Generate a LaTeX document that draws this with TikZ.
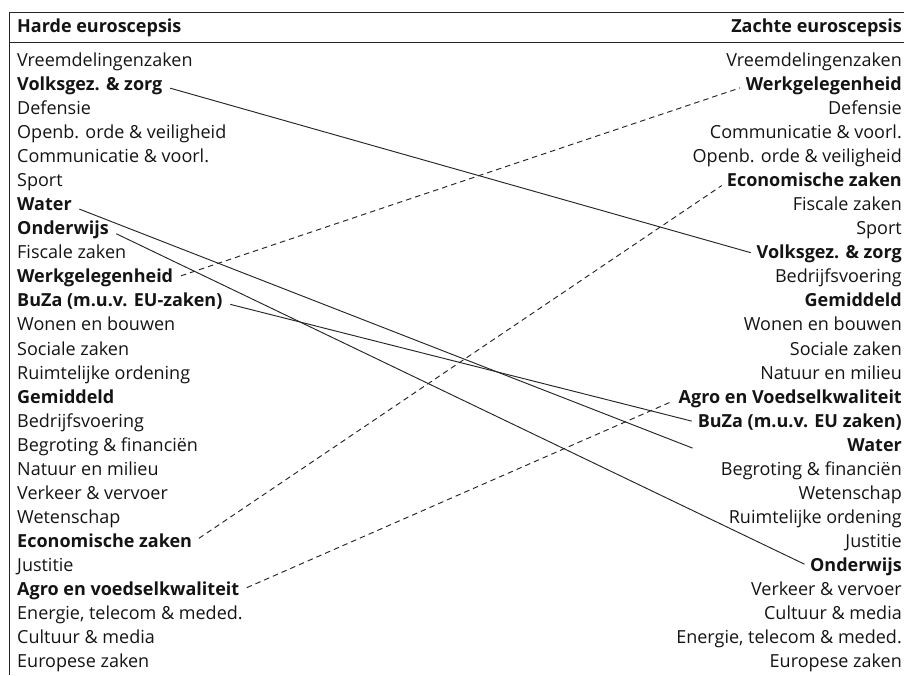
\documentclass[tikz,border=0pt]{standalone}
\usepackage{fontspec}
\setmainfont{Open Sans}
\usetikzlibrary{calc}
\begin{document}
\begin{tikzpicture}[x=1pt,y=-1pt,
  lbl/.style={inner sep=0pt, text height=13pt, text depth=4pt, font=\fontsize{18}{22}\selectfont, text=black!92},
  lft/.style={lbl, anchor=west},
  rgt/.style={lbl, anchor=east},
  bld/.style={font=\fontsize{18}{22}\selectfont\bfseries},
  rule/.style={line width=1pt, black!85},
  link/.style={line width=0.95pt, black!85, shorten <=8pt, shorten >=6pt},
  dlink/.style={link, dash pattern=on 5.5pt off 4pt},
]
\useasboundingbox (0,0) rectangle (904,675);
% frame
\draw[rule] (904,12) -- (9,12) -- (9,675);
\draw[rule] (9,42) -- (904,42);
% headers
\node[lft,bld] (hl) at (17,28) {Harde euroscepsis};
\node[rgt,bld] (hr) at (902,28) {Zachte euroscepsis};
% left column
\node[lft] (l1) at (17,62.0) {Vreemdelingenzaken};
\node[lft,bld] (l2) at (17,86.0) {Volksgez. \& zorg};
\node[lft] (l3) at (17,110.1) {Defensie};
\node[lft] (l4) at (17,134.1) {Openb. orde \& veiligheid};
\node[lft] (l5) at (17,158.2) {Communicatie \& voorl.};
\node[lft] (l6) at (17,182.2) {Sport};
\node[lft,bld] (l7) at (17,206.2) {Water};
\node[lft,bld] (l8) at (17,230.3) {Onderwijs};
\node[lft] (l9) at (17,254.3) {Fiscale zaken};
\node[lft,bld] (l10) at (17,278.4) {Werkgelegenheid};
\node[lft,bld] (l11) at (17,302.4) {BuZa (m.u.v. EU-zaken)};
\node[lft] (l12) at (17,326.4) {Wonen en bouwen};
\node[lft] (l13) at (17,350.5) {Sociale zaken};
\node[lft] (l14) at (17,374.5) {Ruimtelijke ordening};
\node[lft,bld] (l15) at (17,398.6) {Gemiddeld};
\node[lft] (l16) at (17,422.6) {Bedrijfsvoering};
\node[lft] (l17) at (17,446.6) {Begroting \& financiën};
\node[lft] (l18) at (17,470.7) {Natuur en milieu};
\node[lft] (l19) at (17,494.7) {Verkeer \& vervoer};
\node[lft] (l20) at (17,518.8) {Wetenschap};
\node[lft,bld] (l21) at (17,542.8) {Economische zaken};
\node[lft] (l22) at (17,566.8) {Justitie};
\node[lft,bld] (l23) at (17,590.9) {Agro en voedselkwaliteit};
\node[lft] (l24) at (17,614.9) {Energie, telecom \& meded.};
\node[lft] (l25) at (17,639.0) {Cultuur \& media};
\node[lft] (l26) at (17,663.0) {Europese zaken};
% right column
\node[rgt] (r1) at (902,62.0) {Vreemdelingenzaken};
\node[rgt,bld] (r2) at (902,86.0) {Werkgelegenheid};
\node[rgt] (r3) at (902,110.1) {Defensie};
\node[rgt] (r4) at (902,134.1) {Communicatie \& voorl.};
\node[rgt] (r5) at (902,158.2) {Openb. orde \& veiligheid};
\node[rgt,bld] (r6) at (902,182.2) {Economische zaken};
\node[rgt] (r7) at (902,206.2) {Fiscale zaken};
\node[rgt] (r8) at (902,230.3) {Sport};
\node[rgt,bld] (r9) at (902,254.3) {Volksgez. \& zorg};
\node[rgt] (r10) at (902,278.4) {Bedrijfsvoering};
\node[rgt,bld] (r11) at (902,302.4) {Gemiddeld};
\node[rgt] (r12) at (902,326.4) {Wonen en bouwen};
\node[rgt] (r13) at (902,350.5) {Sociale zaken};
\node[rgt] (r14) at (902,374.5) {Natuur en milieu};
\node[rgt,bld] (r15) at (902,398.6) {Agro en Voedselkwaliteit};
\node[rgt,bld] (r16) at (902,422.6) {BuZa (m.u.v. EU zaken)};
\node[rgt,bld] (r17) at (902,446.6) {Water};
\node[rgt] (r18) at (902,470.7) {Begroting \& financiën};
\node[rgt] (r19) at (902,494.7) {Wetenschap};
\node[rgt] (r20) at (902,518.8) {Ruimtelijke ordening};
\node[rgt] (r21) at (902,542.8) {Justitie};
\node[rgt,bld] (r22) at (902,566.8) {Onderwijs};
\node[rgt] (r23) at (902,590.9) {Verkeer \& vervoer};
\node[rgt] (r24) at (902,614.9) {Cultuur \& media};
\node[rgt] (r25) at (902,639.0) {Energie, telecom \& meded.};
\node[rgt] (r26) at (902,663.0) {Europese zaken};
% free end of the Water connector (stops short, below the BuZa label)
\coordinate (wend) at ($(r16.west |- r17.west)+(-5,1.5)$);
% connectors
\draw[link] (l2.east) -- (r9.west);
\draw[link, shorten >=0pt] (l7.east) -- (wend);
\draw[link] (l8.east) -- (r22.west);
\draw[link] (l11.east) -- (r16.west);
\draw[dlink] (l10.east) -- (r2.west);
\draw[dlink] (l21.east) -- (r6.west);
\draw[dlink] (l23.east) -- (r15.west);
\end{tikzpicture}
\end{document}
